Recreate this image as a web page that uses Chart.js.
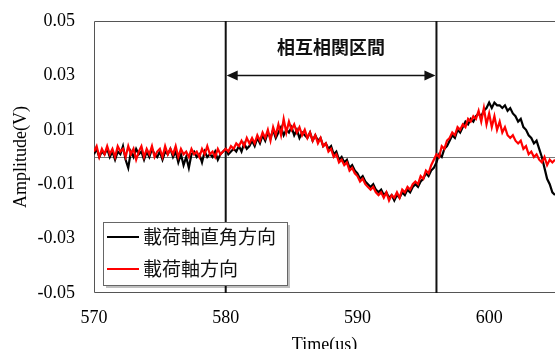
<!DOCTYPE html>
<html>
<head>
<meta charset="utf-8">
<script src="https://cdn.jsdelivr.net/npm/chart.js@4/dist/chart.umd.min.js"></script>
<style>
  html, body { margin: 0; padding: 0; background: #fff; }
  #wrap { width: 555px; height: 349px; }
</style>
</head>
<body>
<div id="wrap"><canvas id="c" width="555" height="349"></canvas></div>
<script>
// sampling grid of the traces (us)
const tStart = 570;
const tStep = 0.2;

// 載荷軸直角方向 (black)
const perpValues = [
  0.001, 0.003, 0.000, 0.002, 0.001,
  0.003, 0.000, 0.002, -0.001, 0.002,
  0.001, 0.004, -0.001, -0.004, 0.002,
  0.000, 0.003, 0.001, 0.002, -0.001,
  0.002, 0.000, 0.003, 0.001, 0.000,
  0.002, -0.001, 0.002, 0.001, 0.003,
  0.000, 0.002, -0.002, 0.001, -0.003,
  0.000, -0.004, 0.001, 0.002, 0.000,
  0.001, -0.002, 0.002, 0.000, 0.001,
  0.000, 0.002, -0.001, 0.001, 0.002,
  0.003, 0.001, 0.002, 0.003, 0.002,
  0.004, 0.002, 0.005, 0.003, 0.004,
  0.006, 0.004, 0.007, 0.005, 0.008,
  0.006, 0.009, 0.007, 0.010, 0.007,
  0.009, 0.011, 0.008, 0.010, 0.009,
  0.011, 0.008, 0.010, 0.007, 0.009,
  0.008, 0.007, 0.009, 0.006, 0.008,
  0.006, 0.007, 0.004, 0.005, 0.003,
  0.004, 0.001, 0.002, -0.001, 0.000,
  -0.002, -0.001, -0.004, -0.003, -0.005,
  -0.006, -0.008, -0.007, -0.009, -0.010,
  -0.011, -0.010, -0.012, -0.013, -0.012,
  -0.014, -0.013, -0.015, -0.014, -0.016,
  -0.014, -0.015, -0.013, -0.014, -0.012,
  -0.013, -0.011, -0.010, -0.011, -0.009,
  -0.008, -0.006, -0.007, -0.005, -0.004,
  -0.002, 0.001, 0.000, 0.003, 0.004,
  0.006, 0.008, 0.007, 0.010, 0.009,
  0.011, 0.013, 0.012, 0.014, 0.013,
  0.015, 0.016, 0.015, 0.017, 0.018,
  0.020, 0.018, 0.020, 0.019, 0.019,
  0.018, 0.019, 0.017, 0.018, 0.016,
  0.015, 0.013, 0.014, 0.011, 0.010,
  0.008, 0.007, 0.005, 0.006, 0.003,
  0.000, -0.004, -0.008, -0.010, -0.013,
  -0.014
];

// 載荷軸方向 (red)
const axialValues = [
  0.002, 0.004, 0.000, 0.003, 0.001,
  0.004, 0.001, 0.003, 0.000, 0.004,
  0.002, 0.003, 0.000, 0.004, 0.001,
  0.003, -0.001, 0.002, 0.004, 0.000,
  0.003, 0.001, 0.004, 0.000, 0.002,
  0.003, 0.000, 0.004, 0.001, 0.003,
  0.001, 0.004, 0.000, 0.003, 0.001,
  0.002, 0.000, 0.003, 0.001, 0.002,
  0.000, 0.003, 0.001, 0.004, 0.001,
  0.002, 0.000, 0.003, 0.001, 0.002,
  0.003, 0.002, 0.004, 0.003, 0.005,
  0.004, 0.006, 0.004, 0.007, 0.005,
  0.007, 0.005, 0.008, 0.006, 0.009,
  0.007, 0.010, 0.006, 0.011, 0.008,
  0.012, 0.008, 0.014, 0.009, 0.013,
  0.010, 0.012, 0.009, 0.011, 0.008,
  0.010, 0.007, 0.009, 0.006, 0.008,
  0.005, 0.007, 0.004, 0.005, 0.002,
  0.003, 0.000, 0.001, -0.002, -0.001,
  -0.003, -0.002, -0.005, -0.004, -0.006,
  -0.007, -0.009, -0.008, -0.010, -0.011,
  -0.012, -0.011, -0.013, -0.014, -0.013,
  -0.015, -0.013, -0.016, -0.014, -0.015,
  -0.013, -0.015, -0.012, -0.013, -0.011,
  -0.012, -0.010, -0.009, -0.010, -0.007,
  -0.008, -0.005, -0.006, -0.003, -0.001,
  0.001, 0.000, 0.004, 0.003, 0.006,
  0.007, 0.009, 0.008, 0.011, 0.010,
  0.012, 0.011, 0.014, 0.013, 0.015,
  0.014, 0.017, 0.013, 0.018, 0.012,
  0.016, 0.011, 0.015, 0.010, 0.013,
  0.009, 0.011, 0.008, 0.007, 0.008,
  0.006, 0.005, 0.006, 0.003, 0.004,
  0.001, 0.002, 0.000, 0.001, -0.001,
  -0.002, 0.000, -0.003, -0.001, -0.002,
  -0.001
];

const seriesNames = ["載荷軸直角方向", "載荷軸方向"];
const xTicks = [570, 580, 590, 600];
const yTicks = [-0.05, -0.03, -0.01, 0.01, 0.03, 0.05];
const windowStart = 580;
const windowEnd = 596;
const windowLabel = "相互相関区間";
const arrowLevel = 0.03;

function toPoints(vals) {
  return vals.map((v, i) => ({ x: tStart + i * tStep, y: v }));
}

const serif = "'Liberation Serif', 'DejaVu Serif', serif";
const cjk = "'Noto Sans CJK JP', sans-serif";

const decor = {
  id: "decor",
  beforeDatasetsDraw(chart) {
    const { ctx, chartArea: a, scales: { x, y } } = chart;
    ctx.save();
    // zero line
    ctx.strokeStyle = "#777";
    ctx.lineWidth = 1;
    ctx.beginPath();
    ctx.moveTo(a.left, Math.round(y.getPixelForValue(0)) + 0.5);
    ctx.lineTo(a.right, Math.round(y.getPixelForValue(0)) + 0.5);
    ctx.stroke();
    // frame
    ctx.strokeStyle = "#555";
    ctx.beginPath();
    ctx.moveTo(a.right, a.top + 0.5);
    ctx.lineTo(a.left + 0.5, a.top + 0.5);
    ctx.lineTo(a.left + 0.5, a.bottom - 0.5);
    ctx.lineTo(a.right, a.bottom - 0.5);
    ctx.stroke();
    // window lines
    ctx.strokeStyle = "#111";
    ctx.lineWidth = 2;
    [windowStart, windowEnd].forEach(t => {
      const px = x.getPixelForValue(t);
      ctx.beginPath();
      ctx.moveTo(px, a.top);
      ctx.lineTo(px, a.bottom);
      ctx.stroke();
    });
    ctx.restore();
  },
  afterDraw(chart) {
    const { ctx, chartArea: a, scales: { x, y } } = chart;
    ctx.save();
    // double arrow
    const x1 = x.getPixelForValue(windowStart) + 1;
    const x2 = x.getPixelForValue(windowEnd) - 1;
    const ay = Math.round(y.getPixelForValue(arrowLevel)) + 0.5;
    ctx.strokeStyle = "#111";
    ctx.fillStyle = "#111";
    ctx.lineWidth = 1.3;
    ctx.beginPath();
    ctx.moveTo(x1 + 8, ay);
    ctx.lineTo(x2 - 8, ay);
    ctx.stroke();
    ctx.beginPath();
    ctx.moveTo(x1, ay); ctx.lineTo(x1 + 11, ay - 5); ctx.lineTo(x1 + 11, ay + 5); ctx.closePath();
    ctx.fill();
    ctx.beginPath();
    ctx.moveTo(x2, ay); ctx.lineTo(x2 - 11, ay - 5); ctx.lineTo(x2 - 11, ay + 5); ctx.closePath();
    ctx.fill();
    // window label
    ctx.font = "bold 18px " + cjk;
    ctx.textAlign = "center";
    ctx.textBaseline = "middle";
    ctx.fillText(windowLabel, (x1 + x2) / 2, 47);

    // axis titles
    ctx.font = "18px " + serif;
    ctx.fillStyle = "#000";
    ctx.fillText("Time(us)", (a.left + a.right) / 2, 345);
    ctx.save();
    ctx.translate(21, (a.top + a.bottom) / 2);
    ctx.rotate(-Math.PI / 2);
    ctx.fillText("Amplitude(V)", 0, 0);
    ctx.restore();

    // legend box
    const lx = 103, ly = 222, lw = 184, lh = 63;
    ctx.fillStyle = "rgba(0,0,0,0.25)";
    ctx.fillRect(lx + 3, ly + 3, lw, lh);
    ctx.fillStyle = "#fff";
    ctx.fillRect(lx, ly, lw, lh);
    ctx.strokeStyle = "#666";
    ctx.lineWidth = 1;
    ctx.strokeRect(lx + 0.5, ly + 0.5, lw, lh);
    ctx.font = "19px " + cjk;
    ctx.textAlign = "left";
    chart.data.datasets.forEach((ds, i) => {
      const ry = i === 0 ? 237 : 269;
      ctx.strokeStyle = ds.borderColor;
      ctx.lineWidth = 2;
      ctx.beginPath();
      ctx.moveTo(107, ry);
      ctx.lineTo(139, ry);
      ctx.stroke();
      ctx.fillStyle = "#111";
      ctx.fillText(ds.label, 143, ry);
    });
    ctx.restore();
  }
};

new Chart(document.getElementById("c"), {
  type: "line",
  data: {
    datasets: [
      { label: seriesNames[0], data: toPoints(perpValues), borderColor: "#000", borderWidth: 2.2, pointRadius: 0, tension: 0, order: 2 },
      { label: seriesNames[1], data: toPoints(axialValues), borderColor: "#ff0000", borderWidth: 2.2, pointRadius: 0, tension: 0, order: 1 }
    ]
  },
  options: {
    responsive: false,
    animation: false,
    layout: { padding: { top: 21, right: 0, left: 0, bottom: 0 } },
    plugins: { legend: { display: false }, tooltip: { enabled: false } },
    scales: {
      x: {
        type: "linear",
        min: 570,
        max: 605,
        afterBuildTicks: s => { s.ticks = xTicks.map(v => ({ value: v })); },
        afterFit: s => { s.height = 56; s.paddingLeft = 0; s.paddingRight = 0; },
        grid: { display: false, drawTicks: false },
        border: { display: false },
        ticks: { font: { family: serif, size: 18 }, color: "#000", padding: 14, maxRotation: 0 }
      },
      y: {
        min: -0.05,
        max: 0.05,
        afterBuildTicks: s => { s.ticks = yTicks.map(v => ({ value: v })); },
        afterFit: s => { s.width = 94; s.paddingTop = 0; s.paddingBottom = 0; },
        grid: { display: false, drawTicks: false },
        border: { display: false },
        ticks: { font: { family: serif, size: 18 }, color: "#000", padding: 19, callback: v => v.toFixed(2) }
      }
    }
  },
  plugins: [decor]
});
</script>
</body>
</html>
